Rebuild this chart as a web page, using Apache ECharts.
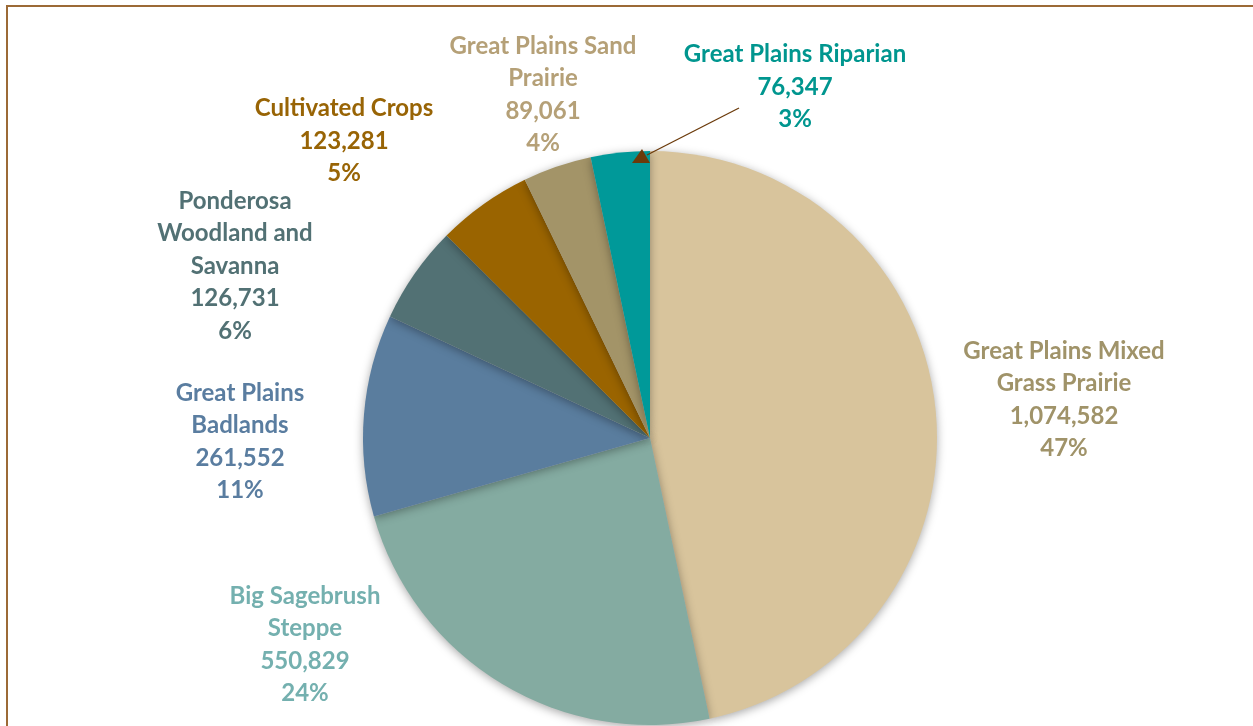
<!DOCTYPE html>
<html>
<head>
<meta charset="utf-8">
<script src="https://cdn.jsdelivr.net/npm/echarts@6/dist/echarts.min.js"></script>
<style>
html,body{margin:0;padding:0;background:#fff;}
#chart{position:absolute;left:0;top:0;width:1253px;height:726px;}
#frame{position:absolute;left:6px;top:5px;width:1260px;height:740px;border-left:2px solid #9C6A36;border-top:2px solid #9C6A36;pointer-events:none;}
</style>
</head>
<body>
<div id="chart"></div>
<div id="frame"></div>
<script>
const categories = [
  'Great Plains Mixed Grass Prairie',
  'Big Sagebrush Steppe',
  'Great Plains Badlands',
  'Ponderosa Woodland and Savanna',
  'Cultivated Crops',
  'Great Plains Sand Prairie',
  'Great Plains Riparian'
];
const labelLines = [
  'Great Plains Mixed\nGrass Prairie',
  'Big Sagebrush\nSteppe',
  'Great Plains\nBadlands',
  'Ponderosa\nWoodland and\nSavanna',
  'Cultivated Crops',
  'Great Plains Sand\nPrairie',
  'Great Plains Riparian'
];
const values = [1074582, 550829, 261552, 126731, 123281, 89061, 76347];
const sliceColors = ['#D8C49C', '#84ABA1', '#5A7D9E', '#527174', '#9A6400', '#A39468', '#009999'];
const labelColors = ['#A09369', '#74B0AF', '#5A7DA0', '#527174', '#986405', '#B5A077', '#00968F'];
const labelPos = [[1064, 400], [305, 645], [240, 442], [235, 266], [344, 141], [543, 95], [795, 87]];

const CX = 650, CY = 438, R = 287;

const chart = echarts.init(document.getElementById('chart'));
const data = categories.map((c, i) => ({
  name: c,
  value: values[i],
  itemStyle: {color: sliceColors[i]},
  label: {color: labelColors[i]}
}));

chart.setOption({
  animation: false,
  series: [{
    type: 'pie',
    center: [CX, CY],
    radius: [0, R],
    startAngle: 90,
    clockwise: true,
    percentPrecision: 0,
    data: data,
    itemStyle: {
      borderWidth: 0,
      shadowBlur: 10,
      shadowColor: 'rgba(0,0,0,0.35)',
      shadowOffsetY: 2
    },
    label: {
      show: true,
      position: 'outside',
      fontFamily: 'Lato',
      fontWeight: 'bold',
      fontSize: 24,
      lineHeight: 32.5,
      align: 'center',
      formatter: function (p) {
        return labelLines[p.dataIndex] + '\n' + p.value.toLocaleString('en-US') + '\n' + Math.round(p.percent) + '%';
      }
    },
    labelLine: {show: false},
    labelLayout: function (params) {
      const pos = labelPos[params.dataIndex];
      return {x: pos[0], y: pos[1], align: 'center', verticalAlign: 'middle'};
    }
  }],
  graphic: [
    {
      type: 'line',
      shape: {x1: 739, y1: 108, x2: 647, y2: 155},
      style: {stroke: '#6B3A0A', lineWidth: 1.3},
      z: 100
    },
    {
      type: 'polygon',
      shape: {points: [[642, 149], [632, 163], [650, 163]]},
      style: {fill: '#6B3A0A'},
      z: 100
    }
  ]
});
</script>
</body>
</html>
